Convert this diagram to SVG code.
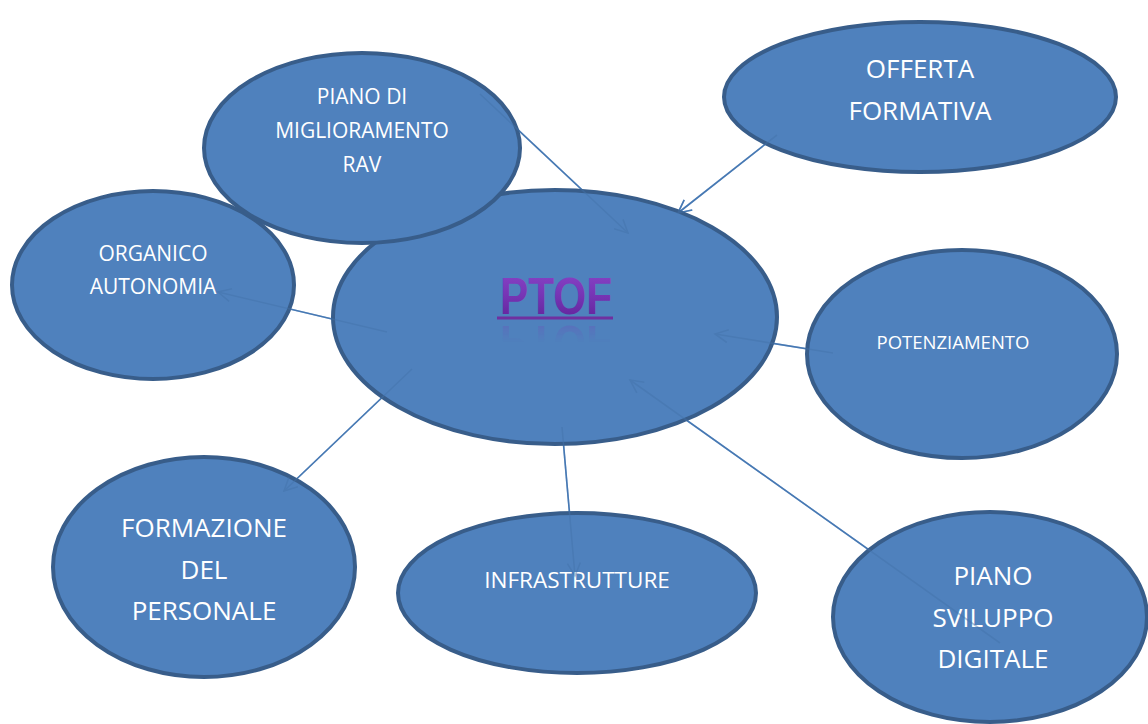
<svg xmlns="http://www.w3.org/2000/svg" xmlns:xlink="http://www.w3.org/1999/xlink" width="1148" height="724" viewBox="0 0 1148 724">
  <defs>
    <style>
      .bubble { fill: #4F81BD; stroke: #385D8A; stroke-width: 4; }
      .label { fill: #FFFFFF; font-family: "Open Sans", "Liberation Sans", sans-serif; text-anchor: middle; }
      .conn { fill: none; stroke: #4A7EBB; stroke-width: 1.6; marker-end: url(#vhead); }
      .ghost { filter: url(#dim); }
      .title { font-family: "Liberation Sans", "Noto Sans", sans-serif; font-weight: bold; font-size: 52px; text-anchor: middle; }
    </style>
    <marker id="vhead" markerUnits="userSpaceOnUse" markerWidth="16" markerHeight="16" viewBox="-14 -8 16 16" refX="0" refY="0" orient="auto">
      <path d="M-13,-6.5 L0,0 L-13,6.5" fill="none" stroke="#4A7EBB" stroke-width="1.6"/>
    </marker>
    <!-- darkens and thins the connector traces seen through the bubbles -->
    <filter id="dim" x="0" y="0" width="1148" height="724" filterUnits="userSpaceOnUse">
      <feColorMatrix type="matrix" values="0.8 0 0 0 0  0 0.8 0 0 0  0 0 0.8 0 0  0 0 0 0.45 0"/>
    </filter>
    <linearGradient id="purple" x1="0" y1="0" x2="0" y2="1">
      <stop offset="0" stop-color="#8A45C8"/>
      <stop offset="0.5" stop-color="#7634B4"/>
      <stop offset="1" stop-color="#5E2196"/>
    </linearGradient>
    <linearGradient id="fade" x1="0" y1="0" x2="0" y2="1">
      <stop offset="0" stop-color="#fff" stop-opacity="0.3"/>
      <stop offset="1" stop-color="#fff" stop-opacity="0"/>
    </linearGradient>
    <mask id="reflectMask" maskUnits="userSpaceOnUse" x="480" y="320" width="160" height="22">
      <rect x="480" y="320" width="160" height="22" fill="url(#fade)"/>
    </mask>
  </defs>

  <rect width="1148" height="724" fill="#FFFFFF"/>

  <!-- connectors, drawn beneath the bubbles -->
  <g id="connectors">
    <line class="conn" x1="480" y1="94" x2="628" y2="233"/>
    <line class="conn" x1="777" y1="135" x2="678" y2="213"/>
    <line class="conn" x1="387" y1="332" x2="218" y2="292"/>
    <line class="conn" x1="412" y1="369" x2="284" y2="491"/>
    <line class="conn" x1="562" y1="427" x2="575" y2="576"/>
    <line class="conn" x1="833" y1="353" x2="715" y2="334"/>
    <line class="conn" x1="1000" y1="643" x2="630" y2="380"/>
  </g>

  <g id="node-ptof">
    <ellipse class="bubble" cx="555" cy="317" rx="222" ry="127"/>
  </g>

  <g id="node-organico">
    <ellipse class="bubble" cx="153" cy="285" rx="141" ry="94"/>
    <text class="label" font-size="21" x="153" y="261">ORGANICO</text>
    <text class="label" font-size="21" x="153" y="294">AUTONOMIA</text>
  </g>

  <g id="node-piano-miglioramento">
    <ellipse class="bubble" cx="362" cy="148" rx="158" ry="95"/>
    <text class="label" font-size="21" x="362" y="104">PIANO DI</text>
    <text class="label" font-size="21" x="362" y="138">MIGLIORAMENTO</text>
    <text class="label" font-size="21" x="362" y="172">RAV</text>
  </g>

  <g id="node-offerta">
    <ellipse class="bubble" cx="920" cy="97" rx="196" ry="75"/>
    <text class="label" font-size="26" x="920" y="78">OFFERTA</text>
    <text class="label" font-size="26" x="920" y="120">FORMATIVA</text>
  </g>

  <g id="node-potenziamento">
    <ellipse class="bubble" cx="962" cy="354" rx="155" ry="104"/>
    <text class="label" font-size="18.5" x="953" y="349">POTENZIAMENTO</text>
  </g>

  <g id="node-formazione">
    <ellipse class="bubble" cx="204" cy="567" rx="151" ry="110"/>
    <text class="label" font-size="26" x="204" y="537">FORMAZIONE</text>
    <text class="label" font-size="26" x="204" y="579">DEL</text>
    <text class="label" font-size="26" x="204" y="620">PERSONALE</text>
  </g>

  <g id="node-infrastrutture">
    <ellipse class="bubble" cx="577" cy="593" rx="179" ry="80"/>
    <text class="label" font-size="22.5" x="577" y="588">INFRASTRUTTURE</text>
  </g>

  <g id="node-piano-digitale">
    <ellipse class="bubble" cx="990" cy="617" rx="157" ry="105"/>
    <text class="label" font-size="26" x="993" y="585">PIANO</text>
    <text class="label" font-size="26" x="993" y="627">SVILUPPO</text>
    <text class="label" font-size="26" x="993" y="668">DIGITALE</text>
  </g>

  <!-- connector traces showing faintly through the bubbles -->
  <use xlink:href="#connectors" class="ghost"/>

  <!-- central title with underline and soft reflection -->
  <g id="ptof-title">
    <text class="title" x="556" y="314" fill="url(#purple)" textLength="112" lengthAdjust="spacingAndGlyphs">PTOF</text>
    <rect x="497" y="316.5" width="116" height="3" fill="#7030A0"/>
    <g mask="url(#reflectMask)">
      <text class="title" x="556" y="-326" fill="#7A3FB8" transform="scale(1,-1)" textLength="112" lengthAdjust="spacingAndGlyphs">PTOF</text>
    </g>
  </g>
</svg>
